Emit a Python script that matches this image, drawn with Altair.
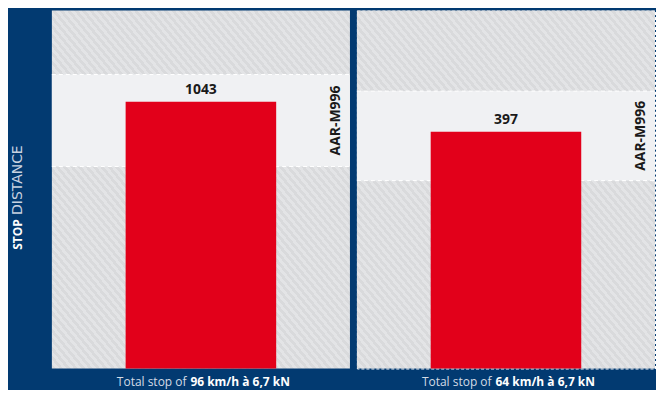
import altair as alt
import pandas as pd

# ---- data ----
speeds = ["96 km/h à 6,7 kN", "64 km/h à 6,7 kN"]
distances = [1043, 397]
band_low = [790, 315]
band_high = [1150, 465]
y_max = [1400, 600]
band_name = "AAR-M996"
prefix = "Total stop of"
title_bold = "STOP"
title_regular = "DISTANCE"

W, H = 299, 359
LABEL_Y = 373
BG = "#023a71"
RED = "#e2001a"
BAND = "#f0f1f3"
STRIPE_A = "#d9dadc"
STRIPE_B = "#e3e4e6"
FONT = "Open Sans"

# diagonal hatch as a gradient style
stops = []
N = 80
for i in range(N):
    a, b, c = i / N, (i + 0.5) / N, (i + 1) / N
    stops += [
        alt.GradientStop(color=STRIPE_A, offset=a),
        alt.GradientStop(color=STRIPE_A, offset=b),
        alt.GradientStop(color=STRIPE_B, offset=b),
        alt.GradientStop(color=STRIPE_B, offset=c),
    ]
hatch = alt.LinearGradient(gradient="linear", stops=stops, x1=0, y1=1, x2=1, y2=0)


def panel(i, with_title):
    df = pd.DataFrame({
        "speed": [speeds[i]],
        "dist": [distances[i]],
        "lo": [band_low[i]],
        "hi": [band_high[i]],
        "name": [band_name],
        "prefix": [prefix],
    })
    yscale = alt.Scale(domain=[0, y_max[i]], nice=False, zero=True)
    base = alt.Chart(df)

    bg = base.mark_rect(fill=hatch).encode(
        x=alt.value(0), x2=alt.value(W), y=alt.value(0), y2=alt.value(H)
    )
    band = base.mark_rect(color=BAND).encode(
        x=alt.value(0), x2=alt.value(W),
        y=alt.Y("lo:Q", scale=yscale, axis=None), y2="hi:Q",
    )
    rule_lo = base.mark_rule(color="white", strokeDash=[4, 3], strokeWidth=1).encode(
        x=alt.value(0), x2=alt.value(W), y=alt.Y("lo:Q", scale=yscale, axis=None)
    )
    rule_hi = base.mark_rule(color="white", strokeDash=[4, 3], strokeWidth=1).encode(
        x=alt.value(0), x2=alt.value(W), y=alt.Y("hi:Q", scale=yscale, axis=None)
    )
    xenc = alt.X("speed:N", axis=None,
                 scale=alt.Scale(paddingInner=0, paddingOuter=0.49))
    bar = base.mark_bar(color=RED).encode(
        x=xenc, y=alt.Y("dist:Q", scale=yscale, axis=None)
    )
    val = base.mark_text(font=FONT, fontWeight="bold", fontSize=14, color="#1a1a1a",
                         baseline="alphabetic", dy=-8).encode(
        x=xenc, y=alt.Y("dist:Q", scale=yscale, axis=None), text="dist:Q"
    )
    aar = base.transform_calculate(mid="(datum.lo + datum.hi) / 2").mark_text(
        font=FONT, fontWeight="bold", fontSize=14, color="#1a1a1a", angle=270,
        align="center", baseline="middle").encode(
        x=alt.value(285), y=alt.Y("mid:Q", scale=yscale, axis=None), text="name:N"
    )
    lab_reg = base.mark_text(font=FONT, fontSize=12, color="#d3dbe6",
                             align="right", baseline="middle").encode(
        x=alt.value(135), y=alt.value(LABEL_Y), text="prefix:N"
    )
    lab_bold = base.mark_text(font=FONT, fontSize=12, fontWeight="bold", color="white",
                              align="left", baseline="middle").encode(
        x=alt.value(139), y=alt.value(LABEL_Y), text="speed:N"
    )
    layers = [bg, band, rule_lo, rule_hi, bar, val, aar, lab_reg, lab_bold]
    if with_title:
        tdf = pd.DataFrame({"b": [title_bold], "r": [title_regular]})
        t1 = alt.Chart(tdf).mark_text(font=FONT, fontWeight="bold", fontSize=12,
                                      color="white", angle=270, align="left",
                                      baseline="middle").encode(
            x=alt.value(-34), y=alt.value(240), text="b:N")
        t2 = alt.Chart(tdf).mark_text(font="DejaVu Sans", fontSize=14,
                                      color="#c9d3e1", angle=270, align="left",
                                      baseline="middle").encode(
            x=alt.value(-34), y=alt.value(205), text="r:N")
        layers += [t1, t2]
    ch = alt.layer(*layers).properties(width=W, height=H)
    if with_title:
        ch = ch.properties(view=alt.ViewBackground(stroke=None))
    else:
        ch = ch.properties(view=alt.ViewBackground(stroke="white", strokeDash=[3, 2],
                                                   strokeWidth=1))
    return ch


chart = alt.hconcat(panel(0, True), panel(1, False), spacing=5).resolve_scale(
    x="independent", y="independent"
).properties(
    background=BG,
    padding={"left": 3, "top": 1, "right": 0, "bottom": 0},
).configure_view(stroke=None)

chart.save("out.html", embed_options={"renderer": "svg", "actions": False})
